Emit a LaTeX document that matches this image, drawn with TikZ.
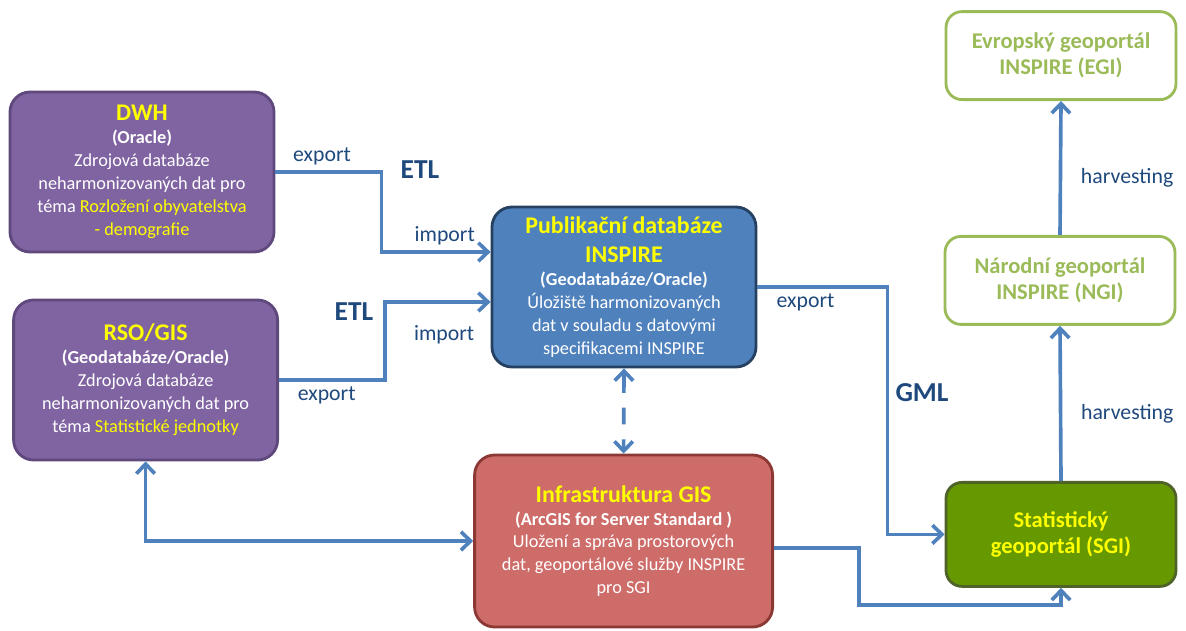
\documentclass[tikz,border=0pt]{standalone}
\usepackage{fontspec}
\setmainfont{Carlito}
\usepackage{xcolor}
\usetikzlibrary{arrows.meta, positioning}
\definecolor{srcpurple}{RGB}{128,100,162}
\definecolor{srcedge}{RGB}{94,72,124}
\definecolor{pubblue}{RGB}{79,129,189}
\definecolor{pubedge}{RGB}{37,64,97}
\definecolor{infrared}{RGB}{205,108,105}
\definecolor{infraedge}{RGB}{140,56,53}
\definecolor{sgigreen}{RGB}{102,153,0}
\definecolor{sgiedge}{RGB}{79,98,40}
\definecolor{portalgreen}{RGB}{155,187,89}
\definecolor{linkblue}{RGB}{79,129,189}
\definecolor{labelblue}{RGB}{31,73,125}
\definecolor{hiyellow}{RGB}{255,255,0}
\newcommand{\boxtitle}[1]{{\fontsize{17}{21}\selectfont\bfseries\color{hiyellow}#1}}
\newcommand{\boxsub}[1]{\textbf{#1}}
\newcommand{\hilite}[1]{\textcolor{hiyellow}{#1}}

\begin{document}
\begin{tikzpicture}[
  >={Straight Barb[length=2.4mm, width=4.6mm]},
  bodytext/.style={align=center, text=white, font=\fontsize{13}{16.3}\selectfont},
  srcbox/.style={bodytext, draw=srcedge, fill=srcpurple, line width=2pt, rounded corners=0.5cm, minimum width=6.6cm, minimum height=4cm},
  pubbox/.style={bodytext, draw=pubedge, fill=pubblue, line width=2pt, rounded corners=0.5cm, minimum width=6.6cm, minimum height=4cm},
  infrabox/.style={bodytext, draw=infraedge, fill=infrared, line width=2pt, rounded corners=0.5cm, minimum width=7.45cm, minimum height=4.3cm},
  sgibox/.style={draw=sgiedge, fill=sgigreen, line width=2pt, rounded corners=0.4cm, align=center, minimum width=5.75cm, minimum height=2.6cm, font=\fontsize{16}{18.4}\selectfont\bfseries, text=hiyellow},
  portal/.style={draw=portalgreen, fill=white, line width=2pt, rounded corners=0.4cm, align=center, minimum width=5.75cm, minimum height=2.2cm, font=\fontsize{16}{18.4}\selectfont\bfseries, text=portalgreen},
  link/.style={->, linkblue, line width=2.6pt},
  lbl/.style={font=\fontsize{15.5}{18}\selectfont, text=labelblue},
  etl/.style={font=\fontsize{19.5}{22}\selectfont\bfseries, text=labelblue}
]
\useasboundingbox (0,0) rectangle (29.65,15.75);
\node[srcbox] (dwh) at (3.55,11.45) {\boxtitle{DWH}\\ \boxsub{(Oracle)}\\ Zdrojová databáze\\ neharmonizovaných dat pro\\ téma \hilite{Rozložení obyvatelstva}\\ \hilite{- demografie}};
\node[srcbox] (rso) at (3.64,6.25) {\boxtitle{RSO/GIS}\\ \boxsub{(Geodatabáze/Oracle)}\\ Zdrojová databáze\\ neharmonizovaných dat pro\\ téma \hilite{Statistické jednotky}};
\node[pubbox] (pub) at (15.6,8.575) {\boxtitle{Publikační databáze}\\[4.5pt] \boxtitle{INSPIRE}\\ \boxsub{(Geodatabáze/Oracle)}\\ Úložiště harmonizovaných\\ dat v souladu s datovými\\ specifikacemi INSPIRE};
\node[infrabox] (infra) at (15.59,2.225) {\boxtitle{Infrastruktura GIS}\\ \boxsub{(ArcGIS for Server Standard )}\\ Uložení a správa prostorových\\ dat, geoportálové služby INSPIRE\\ pro SGI};
\node[sgibox] (sgi) at (26.525,2.39) {Statistický\\ geoportál (SGI)};
\node[portal] (ngi) at (26.5,8.74) {Národní geoportál\\ INSPIRE (NGI)};
\node[portal] (egi) at (26.525,14.36) {Evropský geoportál\\ INSPIRE (EGI)};
\node[etl] (etl1) at (10.5,11.5) {ETL};
\node[etl] (etl2) at (8.85,7.95) {ETL};
\node[etl] (gml) at (23.05,5.925) {GML};
\draw[link] (dwh.east) -- ++(2.65,0) node[lbl, pos=0.44, above] {export} |- ([yshift=0.875cm]pub.west) node[lbl, pos=0.79, above] {import};
\draw[link] (rso.east) -- ++(2.65,0) node[lbl, pos=0.45, below] {export} |- ([yshift=-0.375cm]pub.west) node[lbl, pos=0.78, below=12pt] {import};
\draw[link] (pub.east) -- ++(3.25,0) node[lbl, pos=0.37, below] {export} |- (sgi.west);
\draw[link] ([yshift=-0.175cm]infra.east) -- ++(2.125,0) -- ++(0,-1.425) -| (sgi.south);
\draw[link, <->, dash pattern=on 0.5cm off 0.37cm on 0.42cm off 0.37cm] (pub.south) -- (infra.north);
\draw[link, <->] (rso.south) |- (infra.west);
\draw[link] (sgi.north) -- node[lbl, pos=0.43, right=0.35cm] {harvesting} (ngi.south);
\draw[link] (ngi.north) -- node[lbl, pos=0.43, right=0.35cm] {harvesting} (egi.south);
\end{tikzpicture}
\end{document}
